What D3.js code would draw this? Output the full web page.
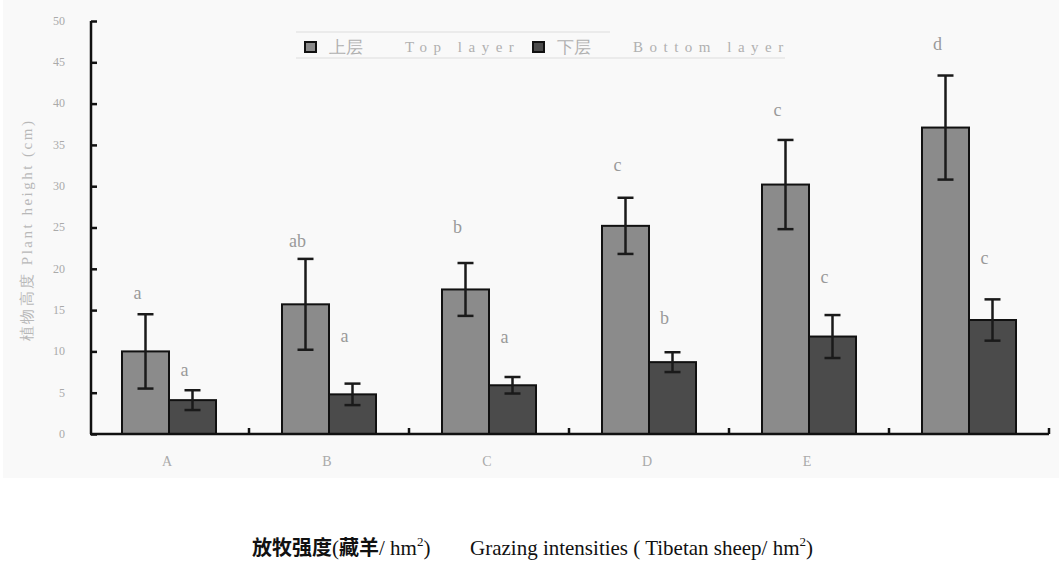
<!DOCTYPE html>
<html lang="zh">
<head>
  <meta charset="UTF-8">
  <title>Plant height by grazing intensity</title>
  <script src="https://d3js.org/d3.v7.min.js"></script>
  <style>
    body { margin: 0; background: #fff; }
    svg text { font-family: "Liberation Serif", "DejaVu Serif", serif; }
  </style>
</head>
<body>
  <svg width="1059" height="561"></svg>
  <script>
    // data
    const groups = ["A", "B", "C", "D", "E", "F"];
    const groupLabels = ["A", "B", "C", "D", "E", ""];
    const topMean = [10.0, 15.7, 17.5, 25.2, 30.2, 37.1];
    const topErr = [4.5, 5.5, 3.2, 3.4, 5.4, 6.3];
    const bottomMean = [4.1, 4.8, 5.9, 8.7, 11.8, 13.8];
    const bottomErr = [1.2, 1.3, 1.0, 1.2, 2.6, 2.5];
    const topLetters = ["a", "ab", "b", "c", "c", "d"];
    const bottomLetters = ["a", "a", "a", "b", "c", "c"];
    // height (cm) where each significance letter sits
    const topLetterAt = [17.1, 23.3, 25.0, 32.5, 39.2, 47.2];
    const bottomLetterAt = [7.7, 11.8, 11.7, 14.0, 19.0, 21.3];
    const yTicks = [0, 5, 10, 15, 20, 25, 30, 35, 40, 45, 50];

    const svg = d3.select("svg");

    // faint scanned panel
    svg.append("rect")
      .attr("x", 3).attr("y", 0).attr("width", 1056).attr("height", 478)
      .attr("fill", "#f9f9f9");

    const x0 = d3.scaleBand().domain(groups).range([89, 1049]).paddingInner(0).paddingOuter(0);
    const groupW = 94;
    const x1 = d3.scaleBand().domain(["top", "bottom"]).range([0, groupW]);
    const y = d3.scaleLinear().domain([0, 50]).range([434, 21]);

    const series = [
      { key: "top", mean: topMean, err: topErr, letters: topLetters, at: topLetterAt, fill: "#8b8b8b" },
      { key: "bottom", mean: bottomMean, err: bottomErr, letters: bottomLetters, at: bottomLetterAt, fill: "#4b4b4b" }
    ];

    const gx = g => x0(g) + (x0.bandwidth() - groupW) / 2;

    series.forEach(s => {
      const rows = groups.map((g, i) => ({ g, v: s.mean[i], e: s.err[i], l: s.letters[i], at: s.at[i] }));
      const cx = d => gx(d.g) + x1(s.key) + x1.bandwidth() / 2;

      svg.append("g").selectAll("rect")
        .data(rows).enter().append("rect")
        .attr("x", d => gx(d.g) + x1(s.key))
        .attr("y", d => y(d.v))
        .attr("width", x1.bandwidth())
        .attr("height", d => y(0) - y(d.v))
        .attr("fill", s.fill)
        .attr("stroke", "#111")
        .attr("stroke-width", 2);

      const eb = svg.append("g").attr("stroke", "#1a1a1a").attr("stroke-width", 2.5);
      eb.selectAll(".v").data(rows).enter().append("line")
        .attr("x1", cx).attr("x2", cx)
        .attr("y1", d => y(d.v + d.e)).attr("y2", d => y(d.v - d.e));
      eb.selectAll(".t").data(rows).enter().append("line")
        .attr("x1", d => cx(d) - 8).attr("x2", d => cx(d) + 8)
        .attr("y1", d => y(d.v + d.e)).attr("y2", d => y(d.v + d.e));
      eb.selectAll(".b").data(rows).enter().append("line")
        .attr("x1", d => cx(d) - 8).attr("x2", d => cx(d) + 8)
        .attr("y1", d => y(d.v - d.e)).attr("y2", d => y(d.v - d.e));

      svg.append("g").selectAll("text")
        .data(rows).enter().append("text")
        .attr("x", d => cx(d) - 8)
        .attr("y", d => y(d.at))
        .attr("dy", "0.32em")
        .attr("text-anchor", "middle")
        .attr("font-size", 18)
        .attr("fill", "#9a9a9a")
        .text(d => d.l);
    });

    // y axis
    const yAxis = svg.append("g").attr("transform", "translate(91,0)")
      .call(d3.axisRight(y).tickValues(yTicks).tickSize(6).tickFormat(""));
    yAxis.select(".domain").attr("stroke", "#111").attr("stroke-width", 2.5).attr("d", `M0,${y(50)}V${y(0)}`);
    yAxis.selectAll(".tick line").attr("stroke", "#111").attr("stroke-width", 2.5);

    svg.append("g").selectAll("text")
      .data(yTicks).enter().append("text")
      .attr("x", 65).attr("y", d => y(d)).attr("dy", "0.32em")
      .attr("text-anchor", "end").attr("font-size", 12).attr("fill", "#aaa")
      .text(d => d);

    // x axis
    const boundaries = groups.map(g => x0(g) + x0.bandwidth());
    svg.append("line")
      .attr("x1", 90).attr("x2", 1049).attr("y1", y(0)).attr("y2", y(0))
      .attr("stroke", "#111").attr("stroke-width", 2.5);
    svg.append("g").selectAll("line")
      .data(boundaries).enter().append("line")
      .attr("x1", d => d).attr("x2", d => d)
      .attr("y1", y(0)).attr("y2", y(0) - 6)
      .attr("stroke", "#111").attr("stroke-width", 2.5);

    svg.append("g").selectAll("text")
      .data(groups).enter().append("text")
      .attr("x", (g) => x0(g) + x0.bandwidth() / 2 - 2)
      .attr("y", 466)
      .attr("text-anchor", "middle").attr("font-size", 14).attr("fill", "#aaa")
      .text((g, i) => groupLabels[i]);

    // y axis title
    svg.append("text")
      .attr("transform", "translate(27,230) rotate(-90)")
      .attr("text-anchor", "middle").attr("dy", "0.35em")
      .attr("font-size", 15).attr("fill", "#b8b8b8")
      .attr("letter-spacing", 2.5)
      .text("植物高度  Plant height (cm)");

    // legend
    const lg = svg.append("g");
    lg.append("line").attr("x1", 296).attr("x2", 610).attr("y1", 32).attr("y2", 32).attr("stroke", "#ddd");
    lg.append("line").attr("x1", 296).attr("x2", 785).attr("y1", 58).attr("y2", 58).attr("stroke", "#ddd");
    const legendItems = [
      { zh: "上层", en: "Top layer", fill: "#8b8b8b", x: 305 },
      { zh: "下层", en: "Bottom layer", fill: "#4b4b4b", x: 533 }
    ];
    legendItems.forEach(it => {
      lg.append("rect").attr("x", it.x).attr("y", 42).attr("width", 11).attr("height", 10)
        .attr("fill", it.fill).attr("stroke", "#111").attr("stroke-width", 2);
      lg.append("text").attr("x", it.x + 24).attr("y", 47).attr("dy", "0.35em")
        .attr("font-size", 17).attr("fill", "#b0b0b0").text(it.zh);
      lg.append("text").attr("x", it.x + 100).attr("y", 47).attr("dy", "0.35em")
        .attr("font-size", 15).attr("fill", "#b0b0b0").attr("letter-spacing", 6.5).text(it.en);
    });

    // x axis title
    const zh = "Noto Sans CJK SC";
    const title = svg.append("text").attr("x", 252).attr("y", 555).attr("font-size", 21).attr("fill", "#111");
    title.append("tspan").attr("font-family", zh).attr("font-weight", "bold").attr("font-size", 20).text("放牧强度");
    title.append("tspan").text("(");
    title.append("tspan").attr("font-family", zh).attr("font-weight", "bold").attr("font-size", 20).text("藏羊");
    title.append("tspan").text("/ hm");
    title.append("tspan").attr("font-size", 13).attr("dy", -9).text("2");
    title.append("tspan").attr("dy", 9).text(")");
    title.append("tspan").attr("x", 470).text("Grazing intensities ( Tibetan sheep/ hm");
    title.append("tspan").attr("font-size", 13).attr("dy", -9).text("2");
    title.append("tspan").attr("dy", 9).text(")");
  </script>
</body>
</html>
